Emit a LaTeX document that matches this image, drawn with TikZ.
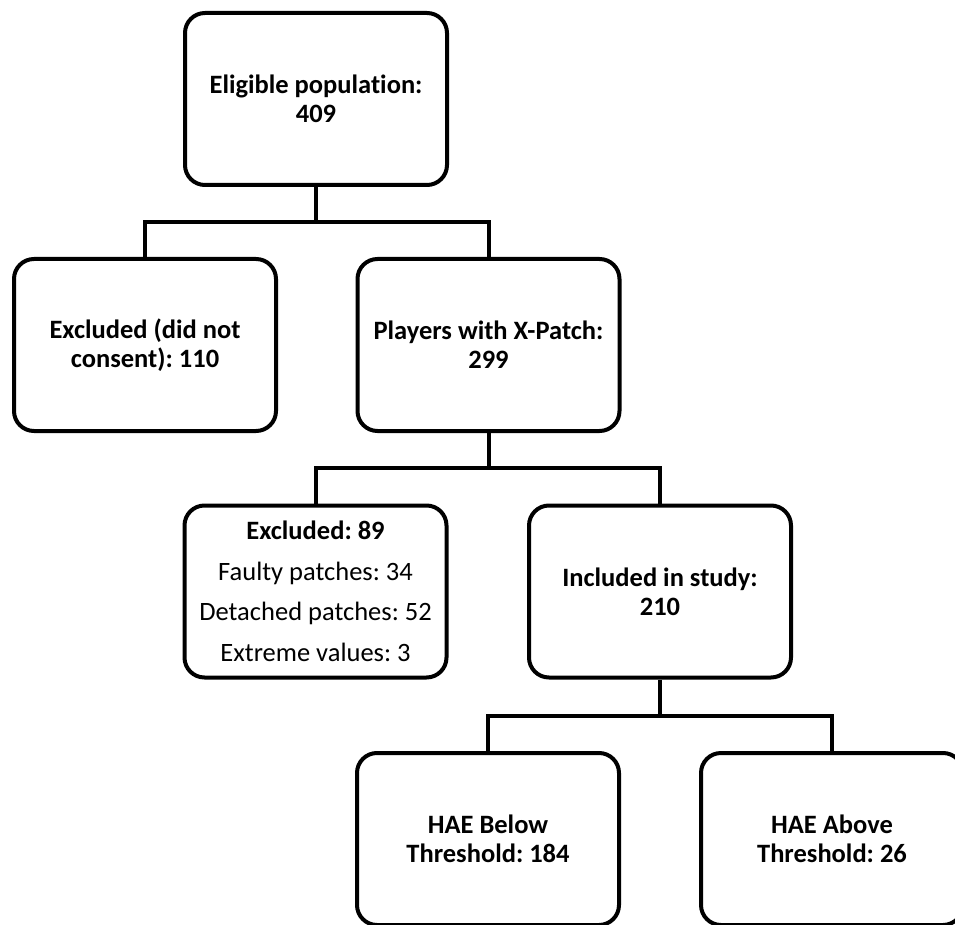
\documentclass[tikz,border=0pt]{standalone}
\usepackage{fontspec}
\setmainfont{Carlito}[Ligatures={TeX,NoCommon}]
\usetikzlibrary{calc}
\begin{document}
\frenchspacing
\begin{tikzpicture}[x=1pt,y=1pt,
  box/.style={draw=black,line width=4pt,rounded corners=20pt,fill=white,
    minimum width=262pt,minimum height=172pt,align=center,inner sep=0pt,
    font=\fontsize{26.5}{29}\selectfont\bfseries},
  link/.style={draw=black,line width=4pt}]
\useasboundingbox (0,0) rectangle (955,-925);
\clip (0,0) rectangle (955,-925);
\node[box] (e) at (316,-99) {Eligible population:\\409};
\node[box,font=\fontsize{26.5}{40.5}\selectfont] (ex) at (315.5,-591.5) {\textbf{Excluded: 89}\\Faulty patches: 34\\Detached patches: 52\\Extreme values: 3};
\node[box] (x) at (145,-345) {Excluded (did not\\consent): 110};
\node[box] (p) at (488.5,-345) {Players with X-Patch:\\299};
\node[box] (inc) at (660,-591.5) {Included in study:\\210};
\node[box] (b) at (488,-839) {HAE Below\\Threshold: 184};
\node[box] (a) at (832,-839) {HAE Above\\Threshold: 26};
\coordinate (j1) at ($(e.south)+(0,-35)$);
\coordinate (j2) at ($(p.south)+(0,-35)$);
\coordinate (j3) at ($(inc.south)+(0,-36)$);
\draw[link] (e.south) -- (j1);
\draw[link] (x.north) |- (j1) -| (p.north);
\draw[link] (p.south) -- (j2);
\draw[link] (ex.north) |- (j2) -| (inc.north);
\draw[link] (inc.south) -- (j3);
\draw[link] (b.north) |- (j3) -| (a.north);
\end{tikzpicture}
\end{document}
